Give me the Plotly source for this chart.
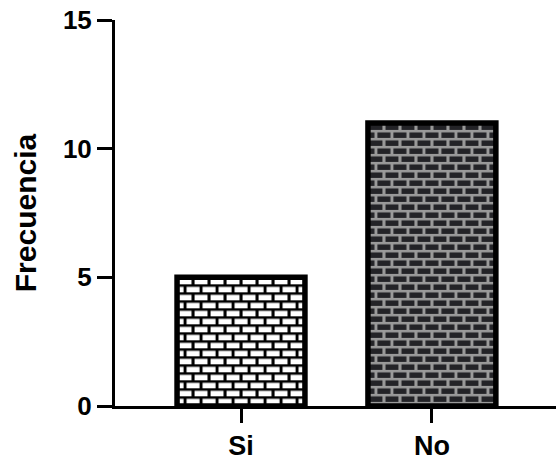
import base64
import plotly.graph_objects as go

# Data
categories = ["Si", "No"]
frecuencia = [5, 11]
y_ticks = [0, 5, 10, 15]

# Brick fill colours per bar: (mortar, brick)
brick_colors = [("#000000", "#ffffff"), ("#9a9a9a", "#232327")]

W, H = 556, 461
margin = dict(l=115, r=0, t=20, b=55)
x_range = [-0.66, 1.65]
y_range = [0, 15]
bar_width = 0.67

plot_w = W - margin["l"] - margin["r"]
plot_h = H - margin["t"] - margin["b"]
px_x = plot_w / (x_range[1] - x_range[0])
px_y = plot_h / (y_range[1] - y_range[0])


def brick_svg(w, h, mortar, brick):
    svg = (
        f"<svg xmlns='http://www.w3.org/2000/svg' width='{w:.1f}' height='{h:.1f}' "
        f"viewBox='0 0 {w:.1f} {h:.1f}' preserveAspectRatio='none'>"
        "<defs><pattern id='b' width='16' height='16' patternUnits='userSpaceOnUse'>"
        f"<rect width='16' height='16' fill='{mortar}'/>"
        f"<rect x='1.5' y='1.5' width='13' height='5.5' fill='{brick}'/>"
        f"<rect x='9.5' y='9.5' width='13' height='5.5' fill='{brick}'/>"
        f"<rect x='-6.5' y='9.5' width='13' height='5.5' fill='{brick}'/>"
        "</pattern></defs>"
        "<rect width='100%' height='100%' fill='url(#b)'/></svg>"
    )
    return "data:image/svg+xml;base64," + base64.b64encode(svg.encode()).decode()


fig = go.Figure(
    go.Bar(
        x=categories,
        y=frecuencia,
        width=bar_width,
        marker=dict(color="rgba(0,0,0,0)", line=dict(color="black", width=5.5)),
    )
)

# Brick texture under each (transparent) bar, sized from the bar value
images = []
for i, (val, (mortar, brick)) in enumerate(zip(frecuencia, brick_colors)):
    images.append(
        dict(
            source=brick_svg(bar_width * px_x, val * px_y, mortar, brick),
            xref="x", yref="y",
            x=i - bar_width / 2, y=val,
            sizex=bar_width, sizey=val,
            xanchor="left", yanchor="top",
            sizing="stretch",
            layer="below",
        )
    )

font_family = "Arial, Liberation Sans, sans-serif"

fig.update_layout(
    width=W, height=H,
    margin=margin,
    paper_bgcolor="white",
    plot_bgcolor="rgba(0,0,0,0)",
    showlegend=False,
    images=images,
    font=dict(family=font_family, color="black"),
    xaxis=dict(
        range=x_range,
        showline=True, linewidth=3, linecolor="black",
        ticks="outside", ticklen=14, tickwidth=3, tickcolor="black",
        tickfont=dict(size=27, weight="bold"),
        showgrid=False, zeroline=False,
    ),
    yaxis=dict(
        range=y_range,
        tickvals=y_ticks,
        showline=True, linewidth=3, linecolor="black",
        ticks="outside", ticklen=15, tickwidth=3, tickcolor="black",
        tickfont=dict(size=26, weight="bold"),
        showgrid=False, zeroline=False,
        title=dict(text="Frecuencia", font=dict(size=30, weight="bold"), standoff=18),
    ),
)

fig.write_html("out.html")
